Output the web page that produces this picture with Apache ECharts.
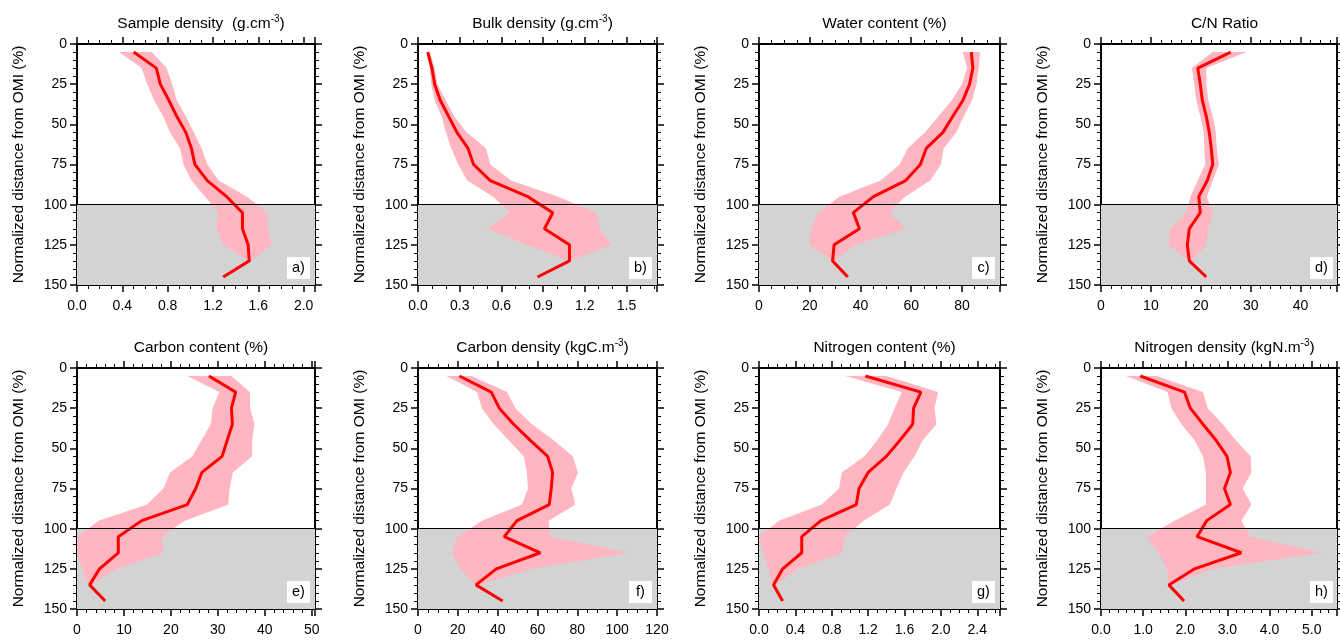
<!DOCTYPE html>
<html><head><meta charset="utf-8">
<script src="https://cdn.jsdelivr.net/npm/echarts@6/dist/echarts.min.js"></script>
<style>html,body{margin:0;padding:0;background:#fff}#c{width:1340px;height:642px}</style>
</head><body><div id="c"></div>
<script>
// ---------------- DATA ----------------
const depths = [5,15,25,35,45,55,65,75,85,95,105,115,125,135,145];
const bandDepths = [5,15,25,35,45,55,65,75,85,95,105,115,125,135];
const yTicks = [0,25,50,75,100,125,150];

const titles = [
  '{t|Sample density  (g.cm}{s|-3}{t|)}',
  '{t|Bulk density (g.cm}{s|-3}{t|)}',
  '{t|Water content (%)}',
  '{t|C/N Ratio}',
  '{t|Carbon content (%)}',
  '{t|Carbon density (kgC.m}{s|-3}{t|)}',
  '{t|Nitrogen content (%)}',
  '{t|Nitrogen density (kgN.m}{s|-3}{t|)}'
];
const panelLetters = ['a)','b)','c)','d)','e)','f)','g)','h)'];
const yAxisName = 'Normalized distance from OMI (%)';

// x axis extents / tick steps
const xMax = [2.1, 1.72, 95, 47.3, 50.7, 120, 2.65, 5.6];
const xStep = [0.4, 0.3, 20, 10, 10, 20, 0.4, 1.0];
const xMinorSplit = [4, 3, 4, 5, 5, 4, 4, 5];
const xDecimals = [1, 1, 0, 0, 0, 0, 1, 1];

// a) Sample density
const meanA = [0.50,0.70,0.735,0.81,0.88,0.96,1.01,1.04,1.15,1.32,1.46,1.46,1.51,1.52,1.29];
const minA  = [0.37,0.57,0.62,0.68,0.76,0.82,0.91,0.94,1.01,1.13,1.25,1.23,1.29,1.51];
const maxA  = [0.66,0.79,0.84,0.88,0.96,1.03,1.10,1.15,1.25,1.50,1.68,1.68,1.72,1.53];
// b) Bulk density
const meanB = [0.07,0.10,0.12,0.16,0.22,0.28,0.36,0.40,0.52,0.79,0.97,0.91,1.09,1.09,0.86];
const minB  = [0.065,0.085,0.095,0.12,0.17,0.20,0.24,0.29,0.355,0.54,0.66,0.50,0.78,1.08];
const maxB  = [0.085,0.12,0.14,0.20,0.26,0.35,0.49,0.52,0.67,1.01,1.28,1.31,1.39,1.09];
// c) Water content
const meanC = [83.7,84.3,83.0,80.4,76.4,72.5,65.9,63.6,57.8,45.1,37.2,39.6,29.6,29.0,35.0];
const minC  = [80.3,82.0,80.0,76.0,70.8,65.5,58.6,55.4,48.0,31.6,23.4,20.4,19.9,29.3];
const maxC  = [87.2,86.6,85.7,84.0,80.7,77.8,72.8,71.7,67.5,57.6,51.4,57.6,37.9,29.6];
// d) C/N ratio
const meanD = [26.0,19.4,19.9,20.3,21.1,21.7,22.1,22.4,21.3,19.6,19.9,17.7,17.3,17.7,21.1];
const minD  = [22.4,18.2,18.7,19.1,19.9,20.6,20.7,20.9,19.4,17.9,17.2,13.9,13.6,17.7];
const maxD  = [29.2,21.1,21.1,21.5,22.4,23.0,23.2,23.6,22.4,21.2,22.4,21.5,21.1,18.1];
// e) Carbon content
const meanE = [28.1,33.8,32.9,33.1,32.0,30.9,26.6,25.3,23.5,13.8,8.8,8.8,4.8,2.7,6.0];
const minE  = [23.5,30.3,28.9,28.5,26.5,24.6,19.8,18.4,14.9,4.6,0.1,0.0,1.1,2.5];
const maxE  = [32.9,36.8,36.9,37.8,37.3,37.3,33.2,32.5,32.2,23.0,18.0,18.4,8.5,3.0];
// f) Carbon density
const meanF = [20.8,36.8,40.8,48.0,56.4,65.1,67.6,66.9,65.9,49.7,43.3,61.4,39.3,29.1,42.5];
const minF  = [14.2,29.6,32.1,38.0,45.5,53.1,54.7,55.2,52.2,32.1,19.6,17.1,21.3,28.8];
const maxF  = [26.8,44.7,48.9,57.2,68.1,77.7,80.3,77.0,79.0,65.6,66.4,105.8,57.2,30.5];
// g) Nitrogen content
const meanG = [1.17,1.78,1.70,1.69,1.55,1.40,1.20,1.10,1.07,0.68,0.47,0.47,0.26,0.16,0.26];
const minG  = [0.95,1.57,1.49,1.42,1.30,1.16,0.91,0.88,0.69,0.22,0.0,0.05,0.10,0.15];
const maxG  = [1.40,1.97,1.93,1.95,1.80,1.71,1.59,1.51,1.44,1.15,0.94,0.92,0.43,0.18];
// h) Nitrogen density
const meanH = [0.93,1.98,2.12,2.42,2.73,2.99,3.07,2.93,3.07,2.51,2.28,3.33,2.22,1.61,1.97];
const minH  = [0.59,1.58,1.67,1.91,2.22,2.42,2.49,2.49,2.49,1.75,1.08,1.36,1.57,1.61];
const maxH  = [1.32,2.42,2.53,2.89,3.20,3.55,3.57,3.36,3.57,3.33,3.54,5.24,2.65,1.67];

const means = [meanA,meanB,meanC,meanD,meanE,meanF,meanG,meanH];
const mins  = [minA,minB,minC,minD,minE,minF,minG,minH];
const maxs  = [maxA,maxB,maxC,maxD,maxE,maxF,maxG,maxH];

// ---------------- LAYOUT / STYLE ----------------
const FONT = 'Liberation Sans, Arial, Helvetica, sans-serif';
const colLeft = [77, 418, 759, 1101];
const colWidth = [238, 239, 241, 237];
const rowTop = [44, 368];
const gridH = 241;
const BAND = '#ffb6c1', MEAN = '#ff0000', SHADE = '#d3d3d3';

const grids = [], xAxes = [], yAxes = [], series = [], titleArr = [], graphics = [];

for (let i = 0; i < 8; i++) {
  const c = i % 4, r = Math.floor(i / 4);
  const L = colLeft[c], W = colWidth[c], T = rowTop[r];
  grids.push({left: L, top: T, width: W, height: gridH, containLabel: false});

  const dec = xDecimals[i], step = xStep[i];
  const fmt = v => {
    const k = v / step;
    if (Math.abs(k - Math.round(k)) > 1e-6) return '';
    return v.toFixed(dec);
  };
  const baseX = {
    gridIndex: i, type: 'value', min: 0, max: xMax[i], interval: step,
    axisLine: {show: true, onZero: false, lineStyle: {color: '#000', width: 2}},
    axisTick: {show: true, length: 7, lineStyle: {color: '#000', width: 1.5}},
    minorTick: {show: true, splitNumber: xMinorSplit[i], length: 4, lineStyle: {color: '#000', width: 1}},
    splitLine: {show: false}, minorSplitLine: {show: false}
  };
  xAxes.push(Object.assign({}, baseX, {position: 'bottom',
    axisLabel: {margin: 14, fontSize: 14, color: '#000', fontFamily: FONT, formatter: fmt}}));
  xAxes.push(Object.assign({}, baseX, {position: 'top', axisLabel: {show: false}}));

  const baseY = {
    gridIndex: i, type: 'value', inverse: true, min: 0, max: 150, interval: 25,
    axisLine: {show: true, onZero: false, lineStyle: {color: '#000', width: 2}},
    axisTick: {show: true, length: 7, lineStyle: {color: '#000', width: 1.5}},
    minorTick: {show: true, splitNumber: 5, length: 4, lineStyle: {color: '#000', width: 1}},
    splitLine: {show: false}, minorSplitLine: {show: false}
  };
  yAxes.push(Object.assign({}, baseY, {position: 'left',
    name: yAxisName, nameLocation: 'middle', nameGap: 50, nameRotate: 90,
    nameTextStyle: {fontSize: 15.5, color: '#000', fontFamily: FONT},
    axisLabel: {margin: 10, fontSize: 14, color: '#000', fontFamily: FONT,
      formatter: v => (yTicks.indexOf(v) >= 0 ? String(v) : '')}}));
  yAxes.push(Object.assign({}, baseY, {position: 'right', axisLabel: {show: false}}));

  const xi = 2 * i, yi = 2 * i;
  const mn = mins[i], mx = maxs[i], me = means[i];
  const n = bandDepths.length;

  // pink min-max band
  series.push({
    type: 'custom', xAxisIndex: xi, yAxisIndex: yi, z: 2, silent: true,
    data: bandDepths.map((d, k) => [mn[k], mx[k], d]),
    encode: {x: [0, 1], y: 2},
    renderItem: function (params, api) {
      if (params.dataIndex !== 0) return null;
      const pts = [];
      for (let k = 0; k < n; k++) pts.push(api.coord([api.value(0, k), api.value(2, k)]));
      for (let k = n - 1; k >= 0; k--) pts.push(api.coord([api.value(1, k), api.value(2, k)]));
      return {type: 'polygon', shape: {points: pts}, style: {fill: BAND, stroke: null}};
    },
    markArea: {silent: true, z: 1, itemStyle: {color: SHADE},
      data: [[{yAxis: 100}, {yAxis: 150}]]}
  });
  // mean line
  series.push({
    type: 'line', xAxisIndex: xi, yAxisIndex: yi, z: 3, silent: true,
    showSymbol: false, symbol: 'none',
    data: depths.map((d, k) => [me[k], d]),
    lineStyle: {color: MEAN, width: 3},
    markLine: {silent: true, symbol: ['none', 'none'], label: {show: false},
      lineStyle: {color: '#000', width: 1, type: 'solid'}, data: [{yAxis: 100}]}
  });

  titleArr.push({
    text: titles[i], left: L + W / 2, top: r === 0 ? 9 : 333, textAlign: 'center',
    textStyle: {fontWeight: 'normal', rich: {
      t: {fontSize: 15.5, lineHeight: 20, color: '#000', fontFamily: FONT, fontWeight: 'normal'},
      s: {fontSize: 10, lineHeight: 10, verticalAlign: 'top', color: '#000', fontFamily: FONT, fontWeight: 'normal'}
    }}
  });

  graphics.push({
    type: 'rect', z: 100, silent: true,
    shape: {x: L + W - 28, y: T + gridH - 28, width: 23, height: 22},
    style: {fill: '#fff'}
  });
  graphics.push({
    type: 'text', z: 101, silent: true,
    x: L + W - 16.5, y: T + gridH - 17,
    style: {text: panelLetters[i], fontSize: 14.5, fill: '#000', fontFamily: FONT,
      align: 'center', verticalAlign: 'middle'}
  });
}

const chart = echarts.init(document.getElementById('c'), null, {renderer: 'canvas'});
chart.setOption({
  animation: false,
  backgroundColor: '#fff',
  title: titleArr,
  grid: grids,
  xAxis: xAxes,
  yAxis: yAxes,
  series: series,
  graphic: {elements: graphics}
});
</script>
</body></html>
